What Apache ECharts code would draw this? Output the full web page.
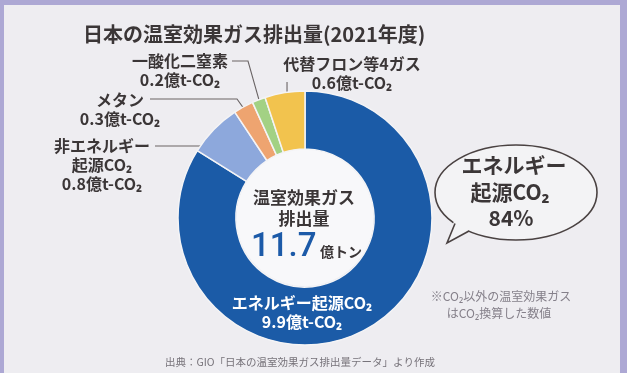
<!DOCTYPE html>
<html><head><meta charset="utf-8">
<script src="https://cdn.jsdelivr.net/npm/echarts@6/dist/echarts.min.js"></script>
<style>html,body{margin:0;padding:0;background:#adA8d4}#c{width:627px;height:373px}</style>
</head><body><div id="c"></div>
<script>
// ---- data ----
const categories = ['エネルギー起源CO₂', '非エネルギー起源CO₂', 'メタン', '一酸化二窒素', '代替フロン等4ガス'];
const labelNames = ['エネルギー起源CO₂', '非エネルギー\n起源CO₂', 'メタン', '一酸化二窒素', '代替フロン等4ガス'];
const values = [9.9, 0.8, 0.3, 0.2, 0.6];
const unitText = '億t-CO₂';
const totalValue = '11.7';
const totalUnit = '億トン';
const energyShare = '84%';
const titleText = '日本の温室効果ガス排出量(2021年度)';
const sourceText = '出典：GIO「日本の温室効果ガス排出量データ」より作成';
const noteLines = ['※CO₂以外の温室効果ガス', 'はCO₂換算した数値'];

// ---- style / layout ----
const FF = '"Noto Sans CJK JP", "Noto Sans", sans-serif';
const sliceColors = ['#1b5ba7', '#8da8dc', '#eea470', '#a3d184', '#f2c34e'];
const PIE_C = [305, 218];
const PIE_R = [69, 127];
const textDark = '#3b3637';
const labelPlace = [
  { x: 302, y: 312 },
  { x: 102, y: 165, start: [155, 146], ar: 115, horiz: true },
  { x: 120, y: 109.5, start: [150, 99], kink: [237, 99], ar: 121 },
  { x: 180, y: 70, start: [232, 61], kink: [248, 61], ar: 125 },
  { x: 352, y: 73, vertTop: 82, ar: 113 }
];

function anchorFor(params, ar, i) {
  let p0;
  if (params.labelLinePoints && params.labelLinePoints[0]) {
    p0 = params.labelLinePoints[0];
  } else {
    const tot = values.reduce((a, b) => a + b, 0);
    let cum = 0;
    for (let k = 0; k < i; k++) cum += values[k];
    const mid = (cum + values[i] / 2) / tot * Math.PI * 2;
    p0 = [PIE_C[0] + PIE_R[1] * Math.sin(mid), PIE_C[1] - PIE_R[1] * Math.cos(mid)];
  }
  const f = ar / PIE_R[1];
  return [PIE_C[0] + (p0[0] - PIE_C[0]) * f, PIE_C[1] + (p0[1] - PIE_C[1]) * f];
}

const chart = echarts.init(document.getElementById('c'), null, { renderer: 'canvas' });

const data = categories.map((name, i) => ({
  name: name,
  value: values[i],
  itemStyle: { color: sliceColors[i] },
  label: i === 0 ? { color: '#ffffff' } : {},
  labelLine: { show: i !== 0 }
}));

chart.setOption({
  backgroundColor: '#ada8d4',
  animation: false,
  title: {
    text: titleText,
    left: 78, top: 19,
    textStyle: { fontFamily: FF, fontSize: 20, fontWeight: 'bold', color: textDark }
  },
  graphic: [
    { type: 'rect', shape: { x: 4, y: 5, width: 616, height: 368 }, style: { fill: '#eeedf1' }, z: -10 },
    { type: 'circle', shape: { cx: 305, cy: 217, r: 69 }, style: { fill: '#f8f8fa' }, z: 0 },
    { type: 'text', x: 304, y: 198, style: { text: '温室効果ガス', font: 'bold 17px ' + FF, fill: textDark, textAlign: 'center', textVerticalAlign: 'middle' }, z: 5 },
    { type: 'text', x: 304, y: 219, style: { text: '排出量', font: 'bold 17px ' + FF, fill: textDark, textAlign: 'center', textVerticalAlign: 'middle' }, z: 5 },
    { type: 'text', x: 251, y: 248, style: { text: totalValue, font: '500 33px Roboto', fill: '#1c5aa8', textAlign: 'left', textVerticalAlign: 'middle' }, z: 5 },
    { type: 'text', x: 320, y: 252, style: { text: totalUnit, font: 'bold 14px ' + FF, fill: textDark, textAlign: 'left', textVerticalAlign: 'middle' }, z: 5 },
    // speech bubble
    { type: 'ellipse', shape: { cx: 516, cy: 192.5, rx: 81, ry: 47.5 }, style: { fill: '#f3f3f5', stroke: '#4a4242', lineWidth: 1.6 }, z: 1 },
    { type: 'polygon', shape: { points: [[454, 221], [447, 243], [471, 229]] }, style: { fill: '#f3f3f5' }, z: 2 },
    { type: 'polyline', shape: { points: [[455, 223.5], [447, 243], [469, 231]] }, style: { stroke: '#4a4242', lineWidth: 1.6, fill: null }, z: 3 },
    { type: 'text', x: 514, y: 165, style: { text: 'エネルギー', font: 'bold 21px ' + FF, fill: textDark, textAlign: 'center', textVerticalAlign: 'middle' }, z: 5 },
    { type: 'text', x: 510, y: 192, style: { text: '起源CO₂', font: 'bold 21px ' + FF, fill: textDark, textAlign: 'center', textVerticalAlign: 'middle' }, z: 5 },
    { type: 'text', x: 511, y: 218, style: { text: energyShare, font: 'bold 21px ' + FF, fill: textDark, textAlign: 'center', textVerticalAlign: 'middle' }, z: 5 },
    // note
    { type: 'text', x: 501, y: 296, style: { text: noteLines[0], font: '12px ' + FF, fill: '#85808a', textAlign: 'center', textVerticalAlign: 'middle' }, z: 5 },
    { type: 'text', x: 499, y: 313, style: { text: noteLines[1], font: '12px ' + FF, fill: '#85808a', textAlign: 'center', textVerticalAlign: 'middle' }, z: 5 },
    // source
    { type: 'text', x: 165, y: 362, style: { text: sourceText, font: '10.5px ' + FF, fill: '#77737a', textAlign: 'left', textVerticalAlign: 'middle' }, z: 5 }
  ],
  series: [{
    type: 'pie',
    center: PIE_C,
    radius: PIE_R,
    startAngle: 90,
    clockwise: true,
    avoidLabelOverlap: false,
    emphasis: { disabled: true },
    itemStyle: { borderColor: '#f4f4f6', borderWidth: 1.5 },
    label: {
      show: true,
      position: 'outside',
      formatter: p => labelNames[p.dataIndex] + '\n' + values[p.dataIndex].toFixed(1) + unitText,
      color: textDark,
      fontFamily: FF,
      fontSize: 16,
      fontWeight: 'bold',
      lineHeight: 19,
      align: 'center'
    },
    labelLine: { show: true, length: 8, length2: 8, lineStyle: { color: '#6a6465', width: 1.1 } },
    labelLayout: function (params) {
      const i = params.dataIndex;
      const L = labelPlace[i];
      const res = { x: L.x, y: L.y, align: 'center', verticalAlign: 'middle' };
      if (i === 0) return res;
      let pts;
      if (L.horiz) {
        const dy = PIE_C[1] - L.start[1];
        const ex = PIE_C[0] - Math.sqrt(L.ar * L.ar - dy * dy);
        pts = [L.start, [ex, L.start[1]], [ex, L.start[1]]];
      } else if (L.vertTop != null) {
        const a = anchorFor(params, L.ar, i);
        pts = [[a[0], L.vertTop], [a[0], L.vertTop], a];
      } else {
        const a = anchorFor(params, L.ar, i);
        pts = [L.start, L.kink, a];
      }
      res.labelLinePoints = pts;
      return res;
    },
    data: data
  }]
});
</script>
</body></html>
